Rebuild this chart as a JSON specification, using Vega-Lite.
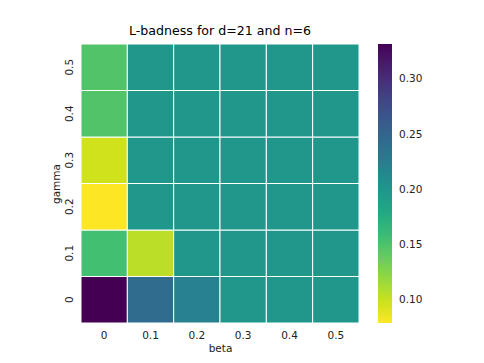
{
  "$schema": "https://vega.github.io/schema/vega-lite/v6.json",
  "width": 278,
  "height": 279,
  "autosize": "none",
  "padding": {"left": 81, "top": 44, "right": 125, "bottom": 40},
  "background": "white",
  "title": {"text": "L-badness for d=21 and n=6", "font": "DejaVu Sans", "fontSize": 12.6, "fontWeight": "normal", "color": "#000000", "offset": 6},
  "config": {"view": {"stroke": null}},
  "data": {"values": [
    {"beta": "0", "gamma": "0", "v": 0.332},
    {"beta": "0.1", "gamma": "0", "v": 0.244},
    {"beta": "0.2", "gamma": "0", "v": 0.223},
    {"beta": "0.3", "gamma": "0", "v": 0.198},
    {"beta": "0.4", "gamma": "0", "v": 0.198},
    {"beta": "0.5", "gamma": "0", "v": 0.198},
    {"beta": "0", "gamma": "0.1", "v": 0.155},
    {"beta": "0.1", "gamma": "0.1", "v": 0.105},
    {"beta": "0.2", "gamma": "0.1", "v": 0.198},
    {"beta": "0.3", "gamma": "0.1", "v": 0.198},
    {"beta": "0.4", "gamma": "0.1", "v": 0.198},
    {"beta": "0.5", "gamma": "0.1", "v": 0.198},
    {"beta": "0", "gamma": "0.2", "v": 0.0794},
    {"beta": "0.1", "gamma": "0.2", "v": 0.198},
    {"beta": "0.2", "gamma": "0.2", "v": 0.198},
    {"beta": "0.3", "gamma": "0.2", "v": 0.198},
    {"beta": "0.4", "gamma": "0.2", "v": 0.198},
    {"beta": "0.5", "gamma": "0.2", "v": 0.198},
    {"beta": "0", "gamma": "0.3", "v": 0.097},
    {"beta": "0.1", "gamma": "0.3", "v": 0.198},
    {"beta": "0.2", "gamma": "0.3", "v": 0.198},
    {"beta": "0.3", "gamma": "0.3", "v": 0.198},
    {"beta": "0.4", "gamma": "0.3", "v": 0.198},
    {"beta": "0.5", "gamma": "0.3", "v": 0.198},
    {"beta": "0", "gamma": "0.4", "v": 0.148},
    {"beta": "0.1", "gamma": "0.4", "v": 0.198},
    {"beta": "0.2", "gamma": "0.4", "v": 0.198},
    {"beta": "0.3", "gamma": "0.4", "v": 0.198},
    {"beta": "0.4", "gamma": "0.4", "v": 0.198},
    {"beta": "0.5", "gamma": "0.4", "v": 0.198},
    {"beta": "0", "gamma": "0.5", "v": 0.148},
    {"beta": "0.1", "gamma": "0.5", "v": 0.198},
    {"beta": "0.2", "gamma": "0.5", "v": 0.198},
    {"beta": "0.3", "gamma": "0.5", "v": 0.198},
    {"beta": "0.4", "gamma": "0.5", "v": 0.198},
    {"beta": "0.5", "gamma": "0.5", "v": 0.198}
  ]},
  "mark": {"type": "rect", "stroke": "white", "strokeWidth": 1},
  "encoding": {
    "x": {
      "field": "beta", "type": "ordinal",
      "sort": ["0", "0.1", "0.2", "0.3", "0.4", "0.5"],
      "scale": {"paddingInner": 0, "paddingOuter": 0},
      "axis": {"title": "beta", "labelAngle": 0, "ticks": false, "domain": false, "labelPadding": 7, "labelFont": "DejaVu Sans", "labelFontSize": 10.5, "labelColor": "#222222", "titleFont": "DejaVu Sans", "titleFontSize": 10.5, "titleFontWeight": "normal", "titleColor": "#222222", "titlePadding": 3}
    },
    "y": {
      "field": "gamma", "type": "ordinal",
      "sort": ["0.5", "0.4", "0.3", "0.2", "0.1", "0"],
      "scale": {"paddingInner": 0, "paddingOuter": 0},
      "axis": {"title": "gamma", "labelAngle": -90, "labelAlign": "center", "labelBaseline": "bottom", "ticks": false, "domain": false, "labelPadding": 7, "labelFont": "DejaVu Sans", "labelFontSize": 10.5, "labelColor": "#222222", "titleFont": "DejaVu Sans", "titleFontSize": 10.5, "titleFontWeight": "normal", "titleColor": "#222222", "titlePadding": 3}
    },
    "color": {
      "field": "v", "type": "quantitative",
      "scale": {"scheme": "viridis", "reverse": true, "domain": [0.0794, 0.332]},
      "legend": {"title": null, "direction": "vertical", "gradientLength": 279, "gradientThickness": 14, "offset": 19, "values": [0.1, 0.15, 0.2, 0.25, 0.3], "format": ".2f", "labelFont": "DejaVu Sans", "labelFontSize": 10.5, "labelColor": "#222222", "labelOffset": 7, "gradientStrokeWidth": 0}
    }
  }
}
